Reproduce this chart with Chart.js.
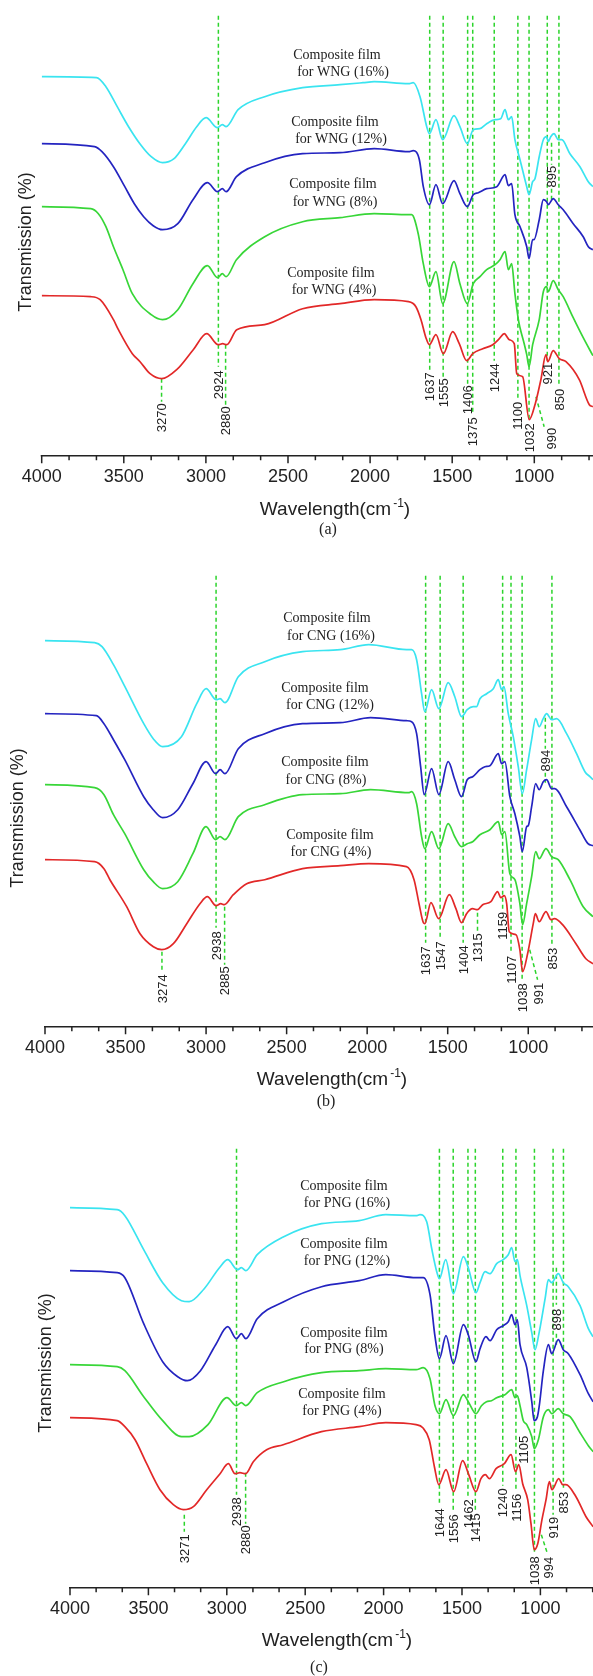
<!DOCTYPE html>
<html><head><meta charset="utf-8">
<script src="https://cdn.jsdelivr.net/npm/chart.js@4.4.1/dist/chart.umd.min.js"></script>
<style>
html,body{margin:0;padding:0;background:#fff;}
body{width:593px;height:1676px;position:relative;overflow:hidden;}
canvas{position:absolute;left:0;}
</style></head><body>
<canvas id="ca"></canvas><canvas id="cb"></canvas><canvas id="cc"></canvas>
<script>
// ---------- DATA (wavenumber cm-1, transmission in arbitrary offset units) ----------
const xTickLabels = [4000, 3500, 3000, 2500, 2000, 1500, 1000];
const concentrations = ['16%', '12%', '8%', '4%'];
const gumNames = ['WNG', 'CNG', 'PNG'];
const panelLetters = ['(a)', '(b)', '(c)'];

// Panel (a) WNG
const wng16 = [[4000,379],[3667,378],[3609,369],[3540,349],[3471,329],[3402,312],[3333,299],[3264,293],[3194,297],[3125,312],[3056,329],[2999,338],[2930,328],[2900,331],[2877,329],[2804,346],[2642,359],[2411,368],[2183,371],[2043,373],[1975,374],[1766,372],[1737,373],[1696,359],[1655,329],[1639,322],[1599,336],[1558,316],[1489,340],[1453,329],[1408,312],[1372,326],[1331,327],[1290,332],[1239,336],[1205,337],[1178,346],[1158,336],[1138,339],[1118,316],[1087,296],[1046,269],[1032,261],[1010,274],[996,277],[970,299],[945,316],[925,319],[915,314],[900,319],[880,322],[854,316],[833,316],[783,302],[722,289],[671,274],[643,269]];
const wng12 = [[4000,312],[3678,309],[3633,304],[3563,289],[3494,269],[3436,252],[3379,239],[3321,230],[3264,226],[3171,232],[3079,256],[2991,273],[2929,264],[2900,267],[2877,264],[2814,279],[2642,293],[2411,302],[2183,303],[1975,307],[1766,304],[1737,305],[1700,296],[1676,269],[1639,251],[1599,271],[1558,252],[1489,275],[1453,262],[1408,249],[1372,261],[1341,263],[1290,267],[1229,269],[1178,281],[1158,270],[1138,272],[1118,241],[1087,229],[1046,209],[1032,197],[1010,216],[1002,216],[970,236],[945,256],[925,254],[915,251],[885,257],[854,251],[824,246],[763,232],[702,219],[671,209],[643,206]];
const wng8 = [[4000,249],[3701,247],[3655,242],[3609,229],[3563,209],[3505,186],[3448,162],[3333,141],[3264,136],[3171,146],[3079,172],[2991,190],[2929,178],[2900,182],[2877,179],[2814,196],[2642,219],[2411,234],[2183,238],[1975,242],[1766,241],[1747,241],[1707,222],[1676,192],[1639,169],[1599,184],[1558,152],[1489,194],[1453,172],[1408,152],[1372,172],[1331,179],[1290,186],[1239,191],[1209,196],[1178,204],[1158,186],[1138,192],[1118,162],[1097,136],[1087,128],[1060,111],[1046,101],[1032,89],[1010,111],[970,136],[945,164],[925,169],[915,164],[885,175],[854,166],[824,159],[763,138],[702,118],[643,100]];
const wng4 = [[4000,160],[3701,159],[3644,156],[3563,136],[3533,126],[3448,102],[3401,94],[3340,82],[3269,77],[3178,86],[3077,106],[2995,122],[2925,111],[2898,112],[2873,111],[2812,126],[2642,131],[2411,147],[2183,152],[1975,156],[1766,154],[1721,149],[1690,136],[1660,118],[1639,111],[1599,121],[1554,102],[1497,124],[1457,112],[1412,95],[1375,102],[1314,107],[1253,111],[1213,117],[1183,122],[1152,116],[1122,112],[1107,82],[1071,79],[1031,36],[994,52],[960,76],[929,101],[918,94],[885,105],[848,97],[807,94],[726,76],[665,51],[643,49]];
const wngPeaks = [3270, 2924, 2880, 1637, 1555, 1406, 1375, 1244, 1100, 1032, 990, 921, 850, 895];

// Panel (b) CNG
const cng16 = [[4000,386],[3692,384],[3646,380],[3575,362],[3504,340],[3387,303],[3328,288],[3270,280],[3153,290],[3058,323],[3000,338],[2937,327],[2913,328],[2883,324],[2800,350],[2636,365],[2401,375],[2167,377],[1990,382],[1756,377],[1724,377],[1693,367],[1662,333],[1642,315],[1600,337],[1555,318],[1497,344],[1456,330],[1414,310],[1379,317],[1342,320],[1321,320],[1300,328],[1258,333],[1217,338],[1186,347],[1165,337],[1151,340],[1124,313],[1093,290],[1062,260],[1037,233],[1010,257],[979,287],[954,308],[932,300],[907,308],[886,313],[855,307],[824,308],[762,293],[700,273],[648,255],[617,250],[598,247]];
const cng12 = [[4000,313],[3681,311],[3634,303],[3575,287],[3505,267],[3387,230],[3328,217],[3270,209],[3176,217],[3082,243],[3000,265],[2941,253],[2913,257],[2883,253],[2800,278],[2636,293],[2401,303],[2167,304],[1979,309],[1756,306],[1724,305],[1693,293],[1668,260],[1646,232],[1600,258],[1555,232],[1497,265],[1456,247],[1414,230],[1379,247],[1345,250],[1300,257],[1269,260],[1238,261],[1186,273],[1165,263],[1145,265],[1114,230],[1083,213],[1052,190],[1037,175],[1010,200],[1000,201],[979,220],[954,243],[932,237],[907,245],[886,247],[855,238],[835,238],[762,220],[680,197],[629,183],[598,181]];
const cng8 = [[4000,242],[3692,239],[3634,232],[3575,212],[3505,193],[3387,157],[3328,145],[3270,138],[3176,145],[3082,173],[3000,200],[2941,187],[2913,190],[2883,187],[2800,210],[2636,222],[2401,232],[2167,233],[1979,237],[1743,234],[1724,235],[1693,223],[1662,190],[1642,178],[1600,195],[1555,178],[1497,203],[1456,190],[1414,180],[1379,183],[1345,185],[1300,192],[1238,197],[1186,205],[1165,192],[1145,195],[1114,153],[1083,147],[1052,123],[1035,102],[1010,123],[979,150],[954,175],[932,168],[890,178],[855,170],[814,167],[741,147],[659,120],[598,110]];
const cng4 = [[4000,167],[3692,165],[3634,158],[3597,147],[3493,120],[3410,93],[3327,80],[3275,77],[3203,83],[3120,103],[3038,123],[2992,130],[2938,121],[2909,123],[2887,122],[2831,132],[2748,143],[2636,147],[2401,158],[2167,161],[1990,163],[1756,160],[1709,147],[1678,123],[1651,104],[1642,103],[1604,124],[1556,108],[1490,132],[1449,118],[1414,104],[1383,113],[1346,118],[1315,117],[1283,122],[1232,125],[1190,135],[1170,129],[1149,131],[1134,123],[1118,95],[1076,92],[1052,77],[1035,55],[1004,73],[969,103],[956,113],[932,105],[890,115],[859,107],[838,108],[787,102],[704,83],[642,68],[598,63]];
const cngPeaks = [3274, 2938, 2885, 1637, 1547, 1404, 1315, 1159, 1107, 1038, 991, 853, 894];

// Panel (c) PNG
const png16 = [[4000,380],[3699,378],[3650,372],[3530,338],[3409,305],[3289,287],[3240,286],[3144,299],[3047,320],[2994,328],[2932,318],[2907,320],[2879,317],[2806,333],[2637,351],[2396,364],[2155,367],[2034,372],[1986,373],[1793,372],[1768,373],[1725,366],[1693,339],[1661,316],[1644,309],[1604,328],[1555,294],[1491,331],[1460,320],[1411,295],[1385,305],[1353,316],[1321,314],[1279,324],[1237,328],[1205,333],[1183,340],[1162,326],[1147,328],[1130,312],[1087,282],[1055,255],[1034,238],[1013,251],[970,289],[949,308],[928,305],[886,314],[854,305],[822,301],[747,282],[694,259],[664,251]];
const png12 = [[4000,317],[3699,315],[3650,310],[3530,264],[3409,226],[3313,211],[3252,207],[3168,217],[3071,243],[2994,261],[2939,249],[2907,254],[2879,249],[2806,269],[2637,286],[2396,301],[2155,307],[1986,313],[1793,310],[1747,310],[1704,293],[1672,251],[1644,229],[1602,252],[1555,224],[1491,263],[1460,253],[1411,226],[1385,239],[1347,251],[1321,247],[1279,258],[1237,262],[1205,266],[1183,273],[1162,263],[1147,268],[1130,243],[1087,220],[1055,186],[1040,167],[1019,171],[1007,182],[981,217],[949,243],[928,234],[886,248],[854,238],[822,234],[747,213],[694,194],[664,186]];
const png8 = [[4000,223],[3699,221],[3650,217],[3530,191],[3409,167],[3289,151],[3240,151],[3120,163],[2999,190],[2939,182],[2907,185],[2879,182],[2806,195],[2637,206],[2396,215],[2155,217],[1986,219],[1793,218],[1747,220],[1704,209],[1672,182],[1644,174],[1602,188],[1555,172],[1491,193],[1460,186],[1411,174],[1376,182],[1344,186],[1312,187],[1279,190],[1226,193],[1183,198],[1162,190],[1147,192],[1130,182],[1109,167],[1087,163],[1055,151],[1039,139],[1013,148],[981,171],[949,178],[928,174],[886,179],[854,174],[811,171],[747,155],[694,142],[664,136]];
const png4 = [[4000,170],[3699,167],[3650,161],[3585,148],[3511,124],[3426,98],[3341,83],[3277,78],[3213,81],[3128,98],[3043,114],[2990,124],[2948,114],[2916,115],[2880,114],[2831,126],[2746,138],[2640,143],[2396,156],[2155,161],[1986,165],[1793,163],[1750,160],[1709,148],[1676,121],[1648,103],[1602,118],[1553,96],[1496,127],[1457,113],[1411,96],[1379,109],[1351,113],[1325,109],[1283,119],[1230,124],[1187,133],[1159,116],[1138,123],[1113,104],[1081,88],[1060,64],[1039,38],[1017,44],[990,68],[964,88],[943,106],[926,98],[883,109],[858,103],[837,103],[773,91],[709,71],[664,61]];
const pngPeaks = [3271, 2938, 2880, 1644, 1556, 1462, 1415, 1240, 1156, 1105, 1038, 994, 919, 853, 898];

// ---------- LAYOUT / STYLE ----------
// marker layout (y in the y-scale units): v = vertical dashed + label below, d = slanted, m = floating label
const layoutA = [
 {t:'v',y0:77,y1:54,ly:38},{t:'v',y0:440,y1:89,ly:71},{t:'v',y0:111,y1:51,ly:35},
 {t:'v',y0:440,y1:85,ly:69},{t:'v',y0:440,y1:79,ly:63},{t:'v',y0:440,y1:72,ly:56},
 {t:'v',y0:440,y1:41,ly:24},{t:'v',y0:440,y1:95,ly:78},{t:'v',y0:440,y1:57,ly:40},
 {t:'v',y0:440,y1:35,ly:18},{t:'d',y0:59,y1:29,x1:940,lx:898,ly:17},
 {t:'v',y0:440,y1:95,ly:82},{t:'v',y0:440,y1:70,ly:56},
 {t:'m',segs:[[313,291],[267,256]],ly:279}
];
const layoutB = [
 {t:'v',y0:75,y1:55,ly:38},{t:'v',y0:451,y1:99,ly:81},{t:'v',y0:120,y1:62,ly:46},
 {t:'v',y0:451,y1:84,ly:66},{t:'v',y0:451,y1:87,ly:71},{t:'v',y0:451,y1:84,ly:67},
 {t:'v',y0:114,y1:96,ly:79},{t:'v',y0:451,y1:117,ly:101},{t:'v',y0:451,y1:74,ly:57},
 {t:'v',y0:451,y1:46,ly:29},{t:'d',y0:77,y1:47,x1:942,lx:938,ly:33},
 {t:'v',y0:451,y1:82,ly:68},{t:'m',segs:[[309,278],[254,244]],ly:266}
];
const layoutC = [
 {t:'v',y0:73,y1:56,ly:39},{t:'v',y0:439,y1:93,ly:76},{t:'v',y0:115,y1:64,ly:48},
 {t:'v',y0:439,y1:82,ly:65},{t:'v',y0:439,y1:75,ly:59},{t:'v',y0:439,y1:90,ly:74},
 {t:'v',y0:439,y1:78,ly:60},{t:'v',y0:439,y1:102,ly:85},{t:'v',y0:439,y1:97,ly:80},
 {t:'m',segs:[],ly:138,lx:1109},{t:'v',y0:439,y1:33,ly:17},
 {t:'d',y0:53,y1:33,x1:953,lx:947,ly:20},{t:'v',y0:439,y1:73,ly:60},
 {t:'v',y0:439,y1:100,ly:85},{t:'m',segs:[[320,283],[254,243]],ly:268}
];

const seriesColors = ['#3ae4f0', '#2424c0', '#38d638', '#e22828'];
const markColor = '#2cd42c';
const SANS = "'Liberation Sans', Arial, sans-serif";
const SERIF = "'Liberation Serif', 'Times New Roman', serif";

const panels = [
 {id:'ca', top:0, h:560, padL:41.7, padB:64.3, xMin:642.5, yMax:450.7,
  series:[wng16,wng12,wng8,wng4], peaks:wngPeaks, layout:layoutA, gum:gumNames[0], letter:panelLetters[0],
  names:[[337,55,343,72],[335,122,341,139],[333,184,335,202],[331,273,334,290]],
  yTitle:[26,242], xTitle:[335,510], letterPos:[328,530]},
 {id:'cb', top:560, h:565, padL:45, padB:58.3, xMin:598, yMax:461.7,
  series:[cng16,cng12,cng8,cng4], peaks:cngPeaks, layout:layoutB, gum:gumNames[1], letter:panelLetters[1],
  names:[[327,58,331,76],[325,128,330,145],[325,202,326,220],[330,275,331,292]],
  yTitle:[18,258], xTitle:[332,520], letterPos:[326,542]},
 {id:'cc', top:1125, h:551, padL:70, padB:48.3, xMin:664.5, yMax:457.7,
  series:[png16,png12,png8,png4], peaks:pngPeaks, layout:layoutC, gum:gumNames[2], letter:panelLetters[2],
  names:[[344,61,347,78],[344,119,347,136],[344,208,344,224],[342,269,342,286]],
  yTitle:[46,238], xTitle:[337,516], letterPos:[319,543]}
];

function isMajor(v){ return xTickLabels.some(t => Math.abs(t - v) < 1e-3); }

function makeDecor(p){
  return {
    id:'decor',
    beforeDatasetsDraw(chart){
      const ctx = chart.ctx, xs = chart.scales.x, ys = chart.scales.y;
      ctx.save();
      ctx.strokeStyle = markColor; ctx.lineWidth = 1.5; ctx.setLineDash([4,3]);
      p.peaks.forEach((wn, i) => {
        const m = p.layout[i];
        ctx.beginPath();
        if (m.t === 'v') {
          const x = xs.getPixelForValue(wn);
          ctx.moveTo(x, ys.getPixelForValue(m.y0)); ctx.lineTo(x, ys.getPixelForValue(m.y1));
        } else if (m.t === 'd') {
          ctx.moveTo(xs.getPixelForValue(wn), ys.getPixelForValue(m.y0));
          ctx.lineTo(xs.getPixelForValue(m.x1), ys.getPixelForValue(m.y1));
        } else {
          const x = xs.getPixelForValue(m.lx !== undefined ? m.lx : wn);
          m.segs.forEach(s => { ctx.moveTo(x, ys.getPixelForValue(s[0])); ctx.lineTo(x, ys.getPixelForValue(s[1])); });
        }
        ctx.stroke();
      });
      ctx.restore();
    },
    afterDraw(chart){
      const ctx = chart.ctx, xs = chart.scales.x, ys = chart.scales.y;
      const axisY = ys.getPixelForValue(0);
      ctx.save();
      // axis line + ticks
      ctx.strokeStyle = '#222'; ctx.lineWidth = 1.5; ctx.setLineDash([]);
      ctx.beginPath();
      ctx.moveTo(xs.getPixelForValue(xTickLabels[0]) - 1, axisY);
      ctx.lineTo(chart.width, axisY);
      xs.ticks.forEach(t => {
        const x = xs.getPixelForValue(t.value);
        ctx.moveTo(x, axisY); ctx.lineTo(x, axisY + (isMajor(t.value) ? 7.5 : 4.5));
      });
      ctx.stroke();
      // peak labels
      ctx.fillStyle = '#222';
      ctx.font = '13px ' + SANS;
      ctx.textAlign = 'center'; ctx.textBaseline = 'middle';
      p.peaks.forEach((wn, i) => {
        const m = p.layout[i];
        const x = xs.getPixelForValue(m.lx !== undefined ? m.lx : wn);
        const y = ys.getPixelForValue(m.ly);
        ctx.save(); ctx.translate(x, y); ctx.rotate(-Math.PI/2);
        ctx.fillText(String(wn), 0, 1); ctx.restore();
      });
      // series names
      ctx.font = '14px ' + SERIF; ctx.fillStyle = '#222';
      p.names.forEach((n, i) => {
        ctx.fillText('Composite film', n[0], n[1]);
        ctx.fillText('for ' + p.gum + ' (' + concentrations[i] + ')', n[2], n[3]);
      });
      // y title
      ctx.font = '18px ' + SANS;
      ctx.save(); ctx.translate(p.yTitle[0], p.yTitle[1]); ctx.rotate(-Math.PI/2);
      ctx.fillText('Transmission (%)', 0, 0); ctx.restore();
      // x title with superscript
      const main1 = 'Wavelength(cm', sup = '-1', main2 = ')';
      ctx.font = '19px ' + SANS; const w1 = ctx.measureText(main1).width, w3 = ctx.measureText(main2).width;
      ctx.font = '12px ' + SANS; const w2 = ctx.measureText(sup).width + 2;
      let x0 = p.xTitle[0] - (w1 + w2 + w3) / 2;
      ctx.textAlign = 'left';
      ctx.font = '19px ' + SANS; ctx.fillText(main1, x0, p.xTitle[1]);
      ctx.font = '12px ' + SANS; ctx.fillText(sup, x0 + w1 + 2, p.xTitle[1] - 6);
      ctx.font = '19px ' + SANS; ctx.fillText(main2, x0 + w1 + w2, p.xTitle[1]);
      // panel letter
      ctx.textAlign = 'center';
      ctx.font = '16px ' + SERIF; ctx.fillText(p.letter, p.letterPos[0], p.letterPos[1]);
      ctx.restore();
    }
  };
}

panels.forEach(p => {
  const cv = document.getElementById(p.id);
  cv.width = 593; cv.height = p.h; cv.style.top = p.top + 'px';
  cv.style.width = '593px'; cv.style.height = p.h + 'px';
  const datasets = p.series.map((s, i) => ({
    label: p.gum + ' ' + concentrations[i],
    data: s.map(([x, y]) => ({x, y})),
    borderColor: seriesColors[i], backgroundColor: seriesColors[i],
    borderWidth: 1.7, pointRadius: 0, fill: false,
    cubicInterpolationMode: 'monotone'
  }));
  new Chart(cv, {
    type: 'line',
    data: {datasets},
    options: {
      responsive: false, animation: false, devicePixelRatio: 1,
      layout: {padding: {left: p.padL, right: 0, top: 5, bottom: p.padB}},
      plugins: {legend: {display: false}, tooltip: {enabled: false}},
      scales: {
        x: {
          type: 'linear', reverse: true, min: p.xMin, max: xTickLabels[0],
          afterBuildTicks: (scale) => {
            const step = (xTickLabels[0] - xTickLabels[1]) / 3;
            const vals = [];
            for (let k = 0; ; k++) { const v = xTickLabels[0] - k * step; if (v < p.xMin) break; vals.push({value: v}); }
            scale.ticks = vals;
          },
          afterFit: (scale) => { scale.height = 40; scale.paddingLeft = 0; scale.paddingRight = 0; },
          grid: {display: false, drawTicks: false},
          border: {display: false},
          ticks: {
            autoSkip: false, maxRotation: 0, minRotation: 0, padding: 11, color: '#222',
            font: {family: SANS, size: 18},
            callback: (v) => isMajor(v) ? String(Math.round(v)) : ''
          }
        },
        y: {display: false, min: 0, max: p.yMax}
      }
    },
    plugins: [makeDecor(p)]
  });
});
</script></body></html>
